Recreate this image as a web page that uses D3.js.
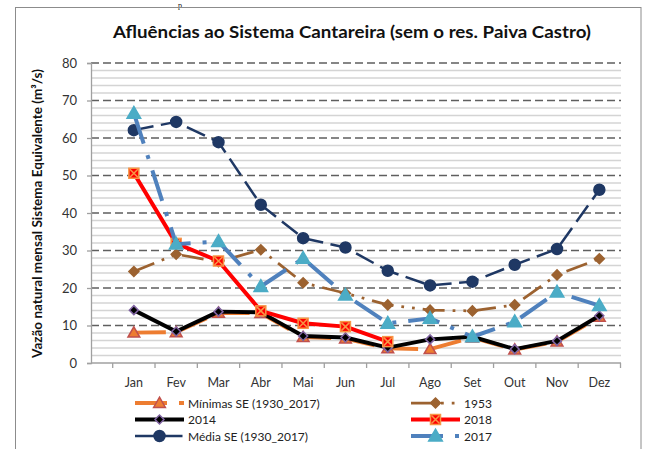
<!DOCTYPE html>
<html>
<head>
<meta charset="utf-8">
<script src="https://cdn.jsdelivr.net/npm/d3@7"></script>
<style>
  body { margin: 0; background: #fff; }
  svg { display: block; font-family: Lato, "Open Sans", sans-serif; }
</style>
</head>
<body>
<div id="chart"></div>
<script>
// data
var months = ["Jan", "Fev", "Mar", "Abr", "Mai", "Jun", "Jul", "Ago", "Set", "Out", "Nov", "Dez"];
var yTicks = [0, 10, 20, 30, 40, 50, 60, 70, 80];

var minimas = [8.1, 8.2, 13.4, 13.3, 6.9, 6.5, 3.9, 3.7, 6.8, 3.6, 5.7, 12.3];
var v1953 = [24.4, 29.0, 27.0, 30.2, 21.4, 18.6, 15.5, 14.1, 13.9, 15.5, 23.5, 27.8];
var v2014 = [14.1, 8.4, 13.7, 13.5, 7.2, 6.8, 4.1, 6.3, 7.0, 3.7, 5.9, 12.6];
var v2018 = [50.6, 31.9, 27.2, 13.9, 10.6, 9.7, 5.7, null, null, null, null, null];
var media = [62.1, 64.3, 58.9, 42.2, 33.3, 30.8, 24.6, 20.7, 21.7, 26.2, 30.4, 46.2];
var v2017 = [66.6, 31.7, 32.4, 20.4, 27.9, 18.1, 10.6, 11.9, 7.0, 11.0, 18.9, 15.3];

var svgWidth = 650;
var svgHeight = 449;

var svg = d3.select("#chart")
  .append("svg")
  .attr("width", svgWidth)
  .attr("height", svgHeight);

// bit of the page text peeking above the chart frame
svg.append("text")
  .attr("x", 178)
  .attr("y", 7.5)
  .attr("font-family", "Liberation Serif")
  .attr("font-size", 8)
  .attr("fill", "#111")
  .text("p");

// chart frame
svg.append("rect")
  .attr("x", 15.5)
  .attr("y", 7.5)
  .attr("width", 625.5)
  .attr("height", 460)
  .attr("fill", "none")
  .attr("stroke", "#8c8c8c")
  .attr("stroke-width", 1);

var plotLeft = 91, plotRight = 621;

var xScale = d3.scaleBand()
  .domain(months)
  .range([112.7, 620.5]);

var yScale = d3.scaleLinear()
  .domain([0, 80])
  .range([363, 63]);

var xc = d => xScale(d) + xScale.bandwidth() / 2;

// minor grid every 2
var minor = d3.range(2, 80, 2).filter(d => d % 10 != 0);
svg.append("g").selectAll("line")
  .data(minor)
  .enter()
  .append("line")
  .attr("x1", plotLeft)
  .attr("x2", plotRight)
  .attr("y1", d => yScale(d))
  .attr("y2", d => yScale(d))
  .attr("stroke", "#d4d4d4")
  .attr("stroke-width", 1.5);

// major grid, dashed
svg.append("g").selectAll("line")
  .data(yTicks.slice(1))
  .enter()
  .append("line")
  .attr("x1", plotLeft)
  .attr("x2", plotRight)
  .attr("y1", d => yScale(d))
  .attr("y2", d => yScale(d))
  .attr("stroke", "#5f5f5f")
  .attr("stroke-width", 1.3)
  .attr("stroke-dasharray", "8,4");

// y axis
var leftAxis = d3.axisLeft(yScale)
  .tickValues(yTicks)
  .tickSize(4)
  .tickPadding(10);

var yAxisG = svg.append("g")
  .attr("transform", `translate(${plotLeft}, 0)`)
  .call(leftAxis);
yAxisG.select(".domain").attr("stroke", "#a0a0a0").attr("stroke-width", 1.3);
yAxisG.selectAll(".tick line").attr("stroke", "#a0a0a0").attr("stroke-width", 1.3);
yAxisG.selectAll("text")
  .attr("font-family", "Lato")
  .attr("font-size", 13)
  .attr("fill", "#333");

// x axis line + ticks at category borders
svg.append("line")
  .attr("x1", plotLeft)
  .attr("x2", plotRight)
  .attr("y1", yScale(0))
  .attr("y2", yScale(0))
  .attr("stroke", "#a0a0a0")
  .attr("stroke-width", 1.5);

var borders = months.map(m => xScale(m)).concat([xScale.range()[1]]);
svg.append("g").selectAll("line")
  .data(borders)
  .enter()
  .append("line")
  .attr("x1", d => d)
  .attr("x2", d => d)
  .attr("y1", yScale(0))
  .attr("y2", yScale(0) + 5)
  .attr("stroke", "#a0a0a0")
  .attr("stroke-width", 1.3);

svg.append("g").selectAll("text")
  .data(months)
  .enter()
  .append("text")
  .attr("x", d => xc(d))
  .attr("y", 387)
  .attr("text-anchor", "middle")
  .attr("font-size", 12.5)
  .attr("fill", "#333")
  .text(d => d);

// title
svg.append("text")
  .attr("x", 352)
  .attr("y", 37.5)
  .attr("text-anchor", "middle")
  .attr("font-size", 17.5)
  .attr("font-weight", "bold")
  .attr("fill", "#111")
  .attr("textLength", 478)
  .attr("lengthAdjust", "spacingAndGlyphs")
  .text("Afluências ao Sistema Cantareira (sem o res. Paiva Castro)");

// y axis title
svg.append("text")
  .attr("transform", "translate(42, 213.5) rotate(-90)")
  .attr("text-anchor", "middle")
  .attr("font-size", 13.5)
  .attr("font-weight", "bold")
  .attr("fill", "#111")
  .text("Vazão natural  mensal Sistema Equivalente (m³/s)");

// marker shapes
function drawMarker(g, type, x, y) {
  if (type == "triangle") {
    g.append("path")
      .attr("d", d3.symbol(d3.symbolTriangle, 60)())
      .attr("transform", `translate(${x}, ${y + 1})`);
  } else if (type == "diamond") {
    g.append("path")
      .attr("d", `M0,-5L5,0L0,5L-5,0Z`)
      .attr("transform", `translate(${x}, ${y})`);
  } else if (type == "smalldiamond") {
    g.append("path")
      .attr("d", `M0,-4.5L4.5,0L0,4.5L-4.5,0Z`)
      .attr("transform", `translate(${x}, ${y})`);
  } else if (type == "circle") {
    g.append("circle").attr("cx", x).attr("cy", y).attr("r", 5.5);
  } else if (type == "squarex") {
    g.append("rect").attr("x", x - 5).attr("y", y - 5).attr("width", 10).attr("height", 10);
    g.append("path")
      .attr("d", `M${x - 4},${y - 4}L${x + 4},${y + 4}M${x + 4},${y - 4}L${x - 4},${y + 4}`)
      .attr("fill", "none");
  } else if (type == "bigtriangle") {
    g.append("path")
      .attr("d", d3.symbol(d3.symbolTriangle, 80)())
      .attr("transform", `translate(${x}, ${y + 1})`);
  }
}

var series = [
  { name: "Mínimas SE (1930_2017)", values: minimas, color: "#ED7D31", width: 4, dash: "32,12",
    marker: "triangle", mFill: "#ED7D31", mStroke: "#C0504D", col: 0, row: 0 },
  { name: "1953", values: v1953, color: "#9C6230", width: 2.75, dash: "22,8,2.75,8,2.75,8",
    marker: "diamond", mFill: "#9C6230", mStroke: "#9C6230", col: 1, row: 0 },
  { name: "2014", values: v2014, color: "#000000", width: 4, dash: null,
    marker: "smalldiamond", mFill: "#000000", mStroke: "#8064A2", col: 0, row: 1 },
  { name: "2018", values: v2018, color: "#FF0000", width: 4, dash: null,
    marker: "squarex", mFill: "#FF0000", mStroke: "#F79646", col: 1, row: 1 },
  { name: "Média SE (1930_2017)", values: media, color: "#1F3864", width: 2.5, dash: "20,7.5",
    marker: "circle", mFill: "#1F3864", mStroke: "#1F3864", col: 0, row: 2 },
  { name: "2017", values: v2017, color: "#4F81BD", width: 4, dash: "32,12,4,12",
    marker: "bigtriangle", mFill: "#4BACC6", mStroke: "#4BACC6", col: 1, row: 2 }
];

var line = d3.line()
  .defined(d => d.v != null)
  .x(d => xc(d.m))
  .y(d => yScale(d.v));

series.forEach(function(s) {
  var pts = months.map((m, i) => ({ m: m, v: s.values[i] }));
  var g = svg.append("g");
  g.append("path")
    .datum(pts)
    .attr("d", line)
    .attr("fill", "none")
    .attr("stroke", s.color)
    .attr("stroke-width", s.width)
    .attr("stroke-linejoin", "round")
    .attr("stroke-dasharray", s.dash);

  var mg = g.append("g")
    .attr("fill", s.mFill)
    .attr("stroke", s.mStroke)
    .attr("stroke-width", 1.5);
  pts.filter(d => d.v != null).forEach(function(d) {
    drawMarker(mg, s.marker, xc(d.m), yScale(d.v));
  });
});

// legend, 2 columns x 3 rows
var legX = [135, 411];
var legY = [403, 419.5, 436];

series.forEach(function(s) {
  var x0 = legX[s.col], y0 = legY[s.row];
  var g = svg.append("g");
  g.append("line")
    .attr("x1", x0)
    .attr("x2", x0 + 49)
    .attr("y1", y0)
    .attr("y2", y0)
    .attr("stroke", s.color)
    .attr("stroke-width", s.width)
    .attr("stroke-dasharray", s.dash);
  var mg = g.append("g")
    .attr("fill", s.mFill)
    .attr("stroke", s.mStroke)
    .attr("stroke-width", 1.5);
  drawMarker(mg, s.marker, x0 + 24.5, y0);
  g.append("text")
    .attr("x", x0 + 53)
    .attr("y", y0 + 4.5)
    .attr("font-size", 12)
    .attr("fill", "#222")
    .text(s.name);
});
</script>
</body>
</html>
